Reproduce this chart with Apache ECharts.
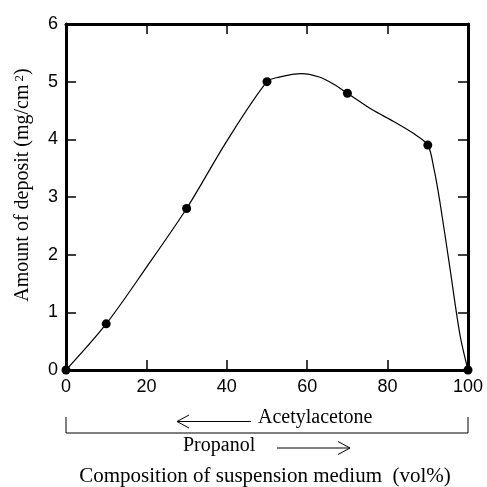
<!DOCTYPE html>
<html>
<head>
<meta charset="utf-8">
<script src="https://cdn.jsdelivr.net/npm/echarts@6/dist/echarts.min.js"></script>
<style>
  html, body { margin: 0; padding: 0; background: #fff; }
  #chart { width: 487px; height: 487px; }
</style>
</head>
<body>
<div id="chart"></div>
<script>
// Measured points: acetylacetone content (vol%) vs. deposit amount (mg/cm2)
const composition = [0, 10, 30, 50, 70, 90, 100];
const deposit = [0, 0.8, 2.8, 5.0, 4.8, 3.9, 0];

// Hand-drawn guide curve through the measurements
const curveX = [0, 10, 20, 30, 40, 50, 53, 58.6, 63, 66.5, 70, 76, 81.5, 86.5, 90, 91.5, 93, 95.5, 98, 100];
const curveY = [0, 0.8, 1.78, 2.8, 3.97, 5.0, 5.08, 5.14, 5.08, 4.96, 4.8, 4.52, 4.31, 4.10, 3.9, 3.5, 2.92, 1.77, 0.61, 0];

const xTicks = [0, 20, 40, 60, 80, 100];
const yTicks = [0, 1, 2, 3, 4, 5, 6];

const chart = echarts.init(document.getElementById('chart'));
const sans = 'Liberation Sans, Arial, sans-serif';
const serif = 'Liberation Serif, Times New Roman, serif';

const baseAxis = {
  axisLine: { show: true, onZero: false, lineStyle: { color: '#000', width: 3 } },
  axisTick: { show: true, inside: true, length: 10, lineStyle: { color: '#000', width: 1.5 } },
  splitLine: { show: false }
};
const xRange = { min: xTicks[0], max: xTicks[xTicks.length - 1], interval: xTicks[1] - xTicks[0] };
const yRange = { min: yTicks[0], max: yTicks[yTicks.length - 1], interval: yTicks[1] - yTicks[0] };

chart.setOption({
  animation: false,
  backgroundColor: '#fff',
  grid: { left: 66, top: 24, width: 402, height: 346, containLabel: false, outerBoundsMode: 'none' },
  xAxis: [
    Object.assign({}, baseAxis, xRange, {
      type: 'value', position: 'bottom',
      axisLabel: { color: '#000', fontFamily: sans, fontSize: 18, margin: 8 }
    }),
    Object.assign({}, baseAxis, xRange, {
      type: 'value', position: 'top',
      axisLabel: { show: false }
    })
  ],
  yAxis: [
    Object.assign({}, baseAxis, yRange, {
      type: 'value', position: 'left',
      axisLabel: { color: '#000', fontFamily: sans, fontSize: 18, margin: 8 }
    }),
    Object.assign({}, baseAxis, yRange, {
      type: 'value', position: 'right',
      axisLabel: { show: false }
    })
  ],
  series: [
    {
      type: 'line',
      data: curveX.map((x, i) => [x, curveY[i]]),
      smooth: 0.3,
      showSymbol: false,
      symbol: 'none',
      lineStyle: { color: '#000', width: 1.2 },
      clip: false,
      z: 3
    },
    {
      type: 'scatter',
      data: composition.map((c, i) => [c, deposit[i]]),
      symbol: 'circle',
      symbolSize: 9,
      itemStyle: { color: '#000', opacity: 1 },
      clip: false,
      z: 5
    }
  ],
  graphic: [
    // vertical axis title
    { type: 'text', x: 23, y: 185, rotation: Math.PI / 2,
      style: {
        text: 'Amount of deposit (mg/cm{sup|2})',
        fontFamily: serif, fontSize: 20, fill: '#000',
        align: 'center', verticalAlign: 'middle',
        rich: { sup: { fontFamily: serif, fontSize: 13, verticalAlign: 'top', padding: [0, 0, 0, 3] } }
      } },
    // bracket spanning the composition range
    { type: 'polyline', shape: { points: [[66, 417], [66, 433], [468, 433], [468, 417]] },
      style: { stroke: '#000', lineWidth: 1, fill: null } },
    // arrow toward increasing acetylacetone (pointing left)
    { type: 'line', shape: { x1: 177, y1: 421.5, x2: 251, y2: 421.5 }, style: { stroke: '#000', lineWidth: 1 } },
    { type: 'polyline', shape: { points: [[189, 415], [177, 421.5], [189, 428]] },
      style: { stroke: '#000', lineWidth: 1, fill: null } },
    { type: 'text', x: 258, y: 418,
      style: { text: 'Acetylacetone', fontFamily: serif, fontSize: 20, fill: '#000', verticalAlign: 'middle' } },
    // arrow toward increasing propanol (pointing right)
    { type: 'text', x: 183, y: 446,
      style: { text: 'Propanol', fontFamily: serif, fontSize: 20, fill: '#000', verticalAlign: 'middle' } },
    { type: 'line', shape: { x1: 277, y1: 448, x2: 350, y2: 448 }, style: { stroke: '#000', lineWidth: 1 } },
    { type: 'polyline', shape: { points: [[338, 441.5], [350, 448], [338, 454.5]] },
      style: { stroke: '#000', lineWidth: 1, fill: null } },
    { type: 'text', x: 265, y: 476,
      style: { text: 'Composition of suspension medium  (vol%)', fontFamily: serif, fontSize: 21, fill: '#000',
               align: 'center', verticalAlign: 'middle' } }
  ]
});
</script>
</body>
</html>
